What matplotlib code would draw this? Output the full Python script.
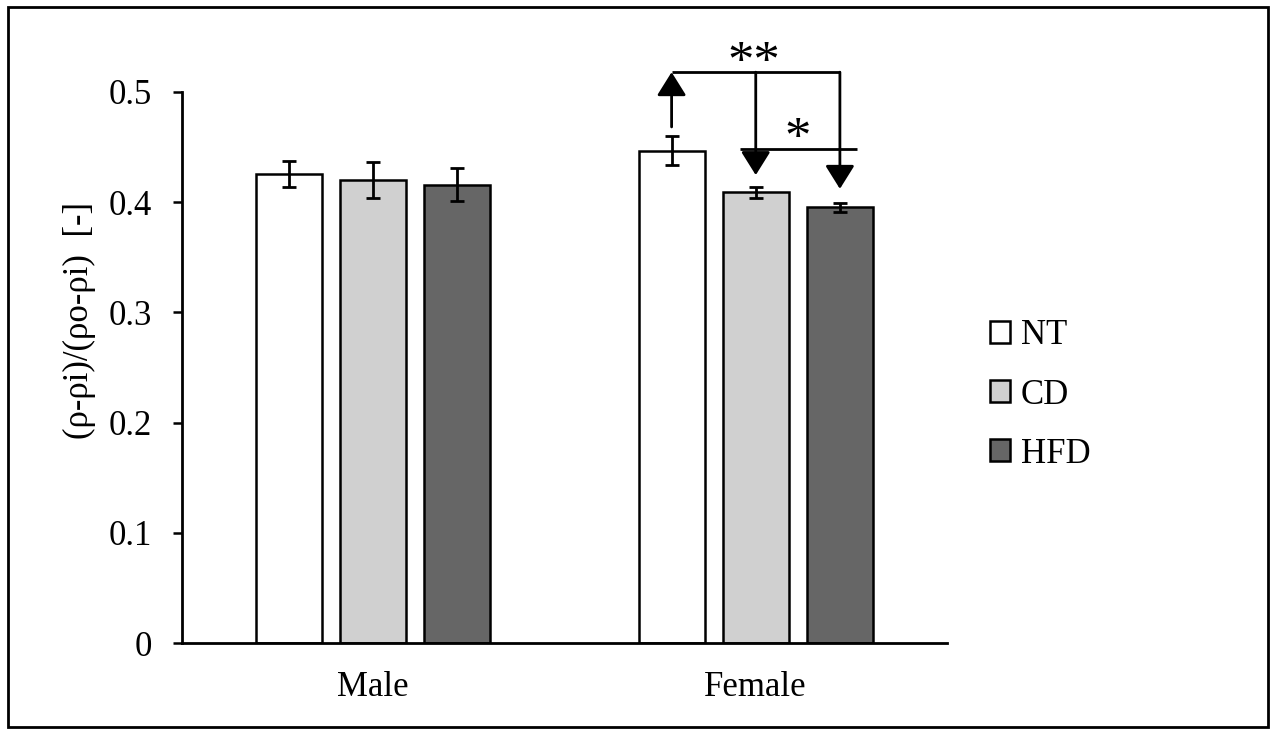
import matplotlib
matplotlib.use("Agg")
from matplotlib import pyplot as plt
from matplotlib.patches import Rectangle

plt.rcParams['font.family'] = ['Liberation Serif', 'DejaVu Serif']

groups = ["Male", "Female"]
series = ["NT", "CD", "HFD"]
colors = ["#ffffff", "#d0d0d0", "#666666"]
# mean and error for each series, ordered Male, Female
means = {"NT": [0.4256, 0.4467], "CD": [0.4204, 0.4090], "HFD": [0.4160, 0.3954]}
errs = {"NT": [0.0121, 0.0131], "CD": [0.0163, 0.0051], "HFD": [0.0151, 0.0042]}
yticks = [0, 0.1, 0.2, 0.3, 0.4, 0.5]
ytick_labels = ["0", "0.1", "0.2", "0.3", "0.4", "0.5"]

# significance markings (Female group)
top_bracket = 0.518
low_bracket = 0.4486
arrow_gap = 0.0085

fig = plt.figure(figsize=(12.76, 7.34), dpi=100)
ax = fig.add_axes([182 / 1276, 91 / 734, 765 / 1276, 551 / 734])

width = 0.1725
offsets = [-0.22, 0.0, 0.22]
xs = list(range(len(groups)))
for s, off, c in zip(series, offsets, colors):
    pos = [x + off for x in xs]
    ax.bar(pos, means[s], width, color=c, edgecolor="black", linewidth=1.8,
           label=s, zorder=2)
    ax.errorbar(pos, means[s], yerr=errs[s], fmt="none", ecolor="black",
                elinewidth=2, capsize=5, capthick=2, zorder=3)

ax.set_xlim(-0.5, 1.5)
ax.set_ylim(0, 0.5)
ax.set_yticks(yticks)
ax.set_yticklabels(ytick_labels)
ax.set_xticks(xs)
ax.set_xticklabels(groups)
ax.tick_params(axis="y", length=6.5, width=1.8, pad=15, labelsize=25)
ax.tick_params(axis="x", length=0, pad=20, labelsize=25)
for side in ["top", "right"]:
    ax.spines[side].set_visible(False)
for side in ["left", "bottom"]:
    ax.spines[side].set_linewidth(2)
ax.set_ylabel("(ρ-ρi)/(ρo-ρi)  [-]", fontsize=25)
ax.yaxis.set_label_coords(-86 / 765, (643 - 320) / 551)

# arrows and brackets
fx = [1 + o for o in offsets]
fm = [means[s][1] for s in series]
fe = [errs[s][1] for s in series]
arrow = dict(arrowstyle="-|>,head_length=0.8,head_width=0.5", mutation_scale=18,
             color="black", lw=2, shrinkA=0, shrinkB=0)
lk = dict(color="black", lw=2, clip_on=False, solid_capstyle="butt")
ax.annotate("", xy=(fx[0], top_bracket), xytext=(fx[0], fm[0] + fe[0] + arrow_gap),
            arrowprops=arrow, annotation_clip=False)
ax.plot([fx[0], fx[2]], [top_bracket, top_bracket], **lk)
ax.annotate("", xy=(fx[1], fm[1] + fe[1] + arrow_gap + 0.002), xytext=(fx[1], top_bracket),
            arrowprops=arrow, annotation_clip=False)
ax.annotate("", xy=(fx[2], fm[2] + fe[2] + arrow_gap + 0.004), xytext=(fx[2], top_bracket),
            arrowprops=arrow, annotation_clip=False)
ax.plot([fx[1] - 0.04, fx[2] + 0.045], [low_bracket, low_bracket], **lk)
ax.text(fx[1] - 0.005, top_bracket - 0.004, "**", fontsize=38, ha="center", va="baseline")
ax.text((fx[1] + fx[2]) / 2, low_bracket - 0.004, "*", fontsize=38, ha="center", va="baseline")

fig.legend(loc="center left", bbox_to_anchor=(990 / 1276, 1 - 395 / 734),
           frameon=False, fontsize=25, handlelength=0.58, handleheight=0.58,
           handletextpad=0.3, labelspacing=0.75, borderpad=0, borderaxespad=0)

fig.patches.append(Rectangle((8 / 1276, 7 / 734), 1260 / 1276, 720 / 734,
                             transform=fig.transFigure, fill=False,
                             edgecolor="black", linewidth=2))

fig.savefig("out.png", dpi=100)
